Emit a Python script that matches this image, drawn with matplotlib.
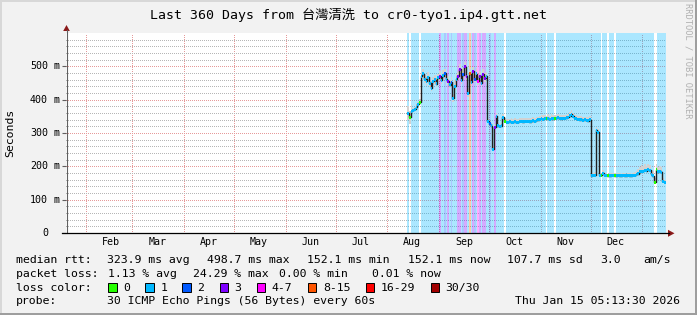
import matplotlib
matplotlib.use("Agg")
import matplotlib.pyplot as plt
import matplotlib.dates as mdates
import matplotlib.transforms as mtransforms
from matplotlib.colors import to_rgba
from matplotlib.patches import Rectangle, Polygon
from matplotlib.lines import Line2D
from matplotlib.ticker import FixedLocator, NullFormatter
from datetime import datetime, timedelta

plt.rcParams['font.family'] = ['DejaVu Sans Mono', 'Noto Sans CJK TC']

# ---------------- data ----------------
title_text = "Last 360 Days from 台灣清洗 to cr0-tyo1.ip4.gtt.net"
t_start = datetime(2025, 1, 20, 5, 13, 30)
t_end = datetime(2026, 1, 15, 5, 13, 30)
data_first_day = datetime(2025, 8, 13)

median_ms = [
    360, 348, 365, 368, 372, 378, 386, 393,
    470, 478, 462, 455, 468, 450, 435, 455, 460, 448,
    466, 470, 458, 472, 480, 462, 455, 445, 452, 405,
    440, 462, 470, 492, 458, 475, 498.7, 470, 420, 478,
    452, 485, 462, 478, 455, 470, 450, 476, 465, 470,
    335, 328, 322, 252, 318, 350, 322, 320, 322, 348, 335,
    333, 332, 334, 333, 332, 334, 333, 333,
    335, 336, 334, 335, 336, 335, 334, 336, 337, 336, 338, 340,
    341, 343, 342, 344, 343, 345, 342, 344, 343, 345, 344, 346, 344, 343, 345, 344, 346,
    348, 352, 357,
    350, 345, 343, 342, 340, 341, 339, 340, 338, 337, 340,
    172, 174, 174, 308, 303,
    174, 173, 180, 174, 173, 172, 172, 173, 174, 172, 172, 173, 172, 172, 173, 172, 172,
    173, 172, 172, 173, 174, 176,
    178,
    184, 186, 185, 188, 187, 190, 189,
    176, 172, 153, 190, 184, 185, 183, 155, 152.1,
]

loss_pings = [
    1, 0, 1, 1, 1, 1, 1, 0,
    1, 1, 1, 1, 1, 1, 1, 1, 1, 1, 1,
    3, 1, 1, 2, 1, 3, 1, 2, 1, 1,
    1, 3, 3, 1, 2, 3, 3, 1, 10, 1,
    3, 2, 1, 4, 3, 1, 3, 3, 1,
    1, 2, 1, 1, 3, 1, 1, 1, 1, 1, 0,
    1, 1, 1, 1, 1, 1, 1, 1, 1, 1,
    1, 1, 1, 1, 1, 1, 1, 1, 1, 1,
    1, 1, 1, 1, 0, 1, 1, 1, 1, 0,
    1, 1, 1, 1, 1, 1, 1, 1, 1, 1,
    1, 1, 1, 1, 1, 1, 1, 1, 1, 1,
    1, 1, 1, 1, 1, 1, 1, 0, 1, 1,
    1, 0, 1, 1, 1, 0, 1, 1, 1, 1,
    1, 1, 1, 1, 1, 1, 1, 1, 1, 1,
    1, 1, 1, 1, 1, 1, 1, 1, 1, 0,
    0, 1, 1, 1, 1, 1,
]

smoke_up_ms = [
    22, 18, 20, 8, 7, 9, 8, 10,
    12, 14, 16, 13, 15, 18, 12, 14, 13, 16,
    12, 15, 14, 17, 13, 12, 15, 14, 16, 13,
    18, 15, 14, 16, 12, 20, 15, 18, 16, 14,
    17, 13, 15, 18, 14, 16, 13, 15, 14, 12,
    8, 7, 9, 10, 8, 9, 7, 8, 9, 8, 10,
    10, 11, 9, 12, 10, 11, 10, 9, 11, 10,
    12, 11, 10, 9, 11, 10, 12, 10, 11, 9,
    10, 12, 11, 10, 9, 11, 10, 12, 11, 10,
    9, 11, 10, 12, 10, 11, 9, 10, 12, 11,
    10, 9, 11, 10, 12, 11, 10, 9, 11, 10, 12,
    6, 7, 8, 9, 8, 6, 7, 8, 6, 7,
    6, 8, 7, 6, 7, 8, 6, 7, 6, 8,
    7, 6, 7, 8, 6, 7, 8, 9,
    14, 15, 17, 16, 18, 15, 17, 16, 14, 15, 12, 16, 15, 17, 14, 10, 8,
]

smoke_down_ms = [
    20, 22, 18, 5, 6, 5, 6, 5,
    10, 12, 11, 13, 10, 12, 9, 11, 12, 10,
    13, 11, 12, 10, 11, 13, 12, 10, 11, 12,
    10, 13, 11, 12, 10, 14, 12, 11, 13, 10,
    12, 11, 10, 13, 11, 12, 10, 11, 12, 10,
    6, 5, 6, 7, 5, 6, 5, 6, 5, 6, 5,
    3, 2, 3, 4, 3, 2, 3, 3, 2, 3,
    4, 3, 2, 3, 3, 4, 3, 2, 3, 3,
    2, 3, 4, 3, 2, 3, 3, 4, 3, 2,
    3, 3, 2, 3, 4, 3, 2, 3, 3, 4,
    3, 2, 3, 3, 2, 3, 4, 3, 2, 3, 3,
    2, 2, 1, 2, 2, 1, 2, 2, 1, 2,
    2, 1, 2, 2, 1, 2, 2, 1, 2, 2,
    1, 2, 2, 1, 2, 2, 1, 2,
    4, 3, 4, 5, 4, 3, 4, 5, 4, 3, 4, 4, 3, 4, 5, 4, 3,
]

y_max = 600
y_tick_values = [0, 100, 200, 300, 400, 500]
y_tick_numbers = ["0", "100", "200", "300", "400", "500"]
y_tick_units = ["", "m", "m", "m", "m", "m"]
y_label = "Seconds"

loss_labels = ["0", "1", "2", "3", "4-7", "8-15", "16-29", "30/30"]
loss_lower = [0, 1, 2, 3, 4, 8, 16, 30]
loss_colors = ["#26ff00", "#00b8ff", "#0059ff", "#7e00ff",
               "#ff00ff", "#ff5500", "#ff0000", "#a10000"]

rtt_label = "median rtt:"
rtt_stats = ["323.9 ms avg", "498.7 ms max", "152.1 ms min",
             "152.1 ms now", "107.7 ms sd", "3.0", "am/s"]
loss_label = "packet loss:"
loss_stats = ["1.13 % avg", "24.29 % max", "0.00 % min", "0.01 % now"]
color_label = "loss color:"
probe_label = "probe:"
probe_text = "30 ICMP Echo Pings (56 Bytes) every 60s"
stamp_text = "Thu Jan 15 05:13:30 2026"
watermark = "RRDTOOL / TOBI OETIKER"

# ---------------- layout ----------------
W, H = 697, 315
BG = "#f2f2f2"
fig = plt.figure(figsize=(W / 100, H / 100), dpi=100, facecolor=BG)


def fx(x):
    return x / W


def fy(y):
    return 1 - y / H


AX_L, AX_R, AX_T, AX_B = 66, 666, 33, 233
ax = fig.add_axes([fx(AX_L), fy(AX_B), (AX_R - AX_L) / W, (AX_B - AX_T) / H])
ax.set_facecolor("white")
for s in ax.spines.values():
    s.set_visible(False)
ax.set_xlim(t_start, t_end)
ax.set_ylim(0, y_max)
ax.set_axisbelow(True)

# grid (dotted)
MINOR_C = "#b6b6b6"
MAJOR_C = "#e69a9a"
ax.xaxis.set_major_locator(mdates.MonthLocator(bymonthday=1))
ax.xaxis.set_major_formatter(NullFormatter())
ax.xaxis.set_minor_locator(mdates.MonthLocator(bymonthday=16))
ax.xaxis.set_minor_formatter(mdates.DateFormatter("%b"))
ax.tick_params(axis="x", which="both", length=0)
ax.tick_params(axis="x", which="minor", labelsize=7.2, pad=3.0, labelcolor="black")
ax.xaxis.grid(True, which="major", color=MAJOR_C, linestyle=":", linewidth=0.72,
              antialiased=False)

ax.yaxis.set_major_locator(FixedLocator(y_tick_values))
ax.yaxis.set_major_formatter(NullFormatter())
minor_y = [v for v in range(20, y_max, 20) if v % 100 != 0]
ax.yaxis.set_minor_locator(FixedLocator(minor_y))
ax.yaxis.set_minor_formatter(NullFormatter())
ax.tick_params(axis="y", which="major", length=3, width=0.8, color="#606060", direction="out")
ax.tick_params(axis="y", which="minor", length=0)
ax.yaxis.grid(True, which="major", color=MAJOR_C, linestyle=":", linewidth=0.72,
              antialiased=False)
ax.yaxis.grid(True, which="minor", color=MINOR_C, linestyle=":", linewidth=0.72,
              antialiased=False)

# data
n = len(median_ms)
days = [data_first_day + timedelta(days=i) for i in range(n)]
xnum = mdates.date2num(days)


def cat_of(p):
    c = 0
    for k, lb in enumerate(loss_lower):
        if p >= lb:
            c = k
    return c


cats = [cat_of(p) for p in loss_pings]

# loss background (loss 0 -> no shading)
bg_cols = [to_rgba(loss_colors[c], 0.33) if c > 0 else (1, 1, 1, 0) for c in cats]
ax.bar(xnum, [y_max] * n, bottom=0, width=1.0, align="edge", color=bg_cols,
       linewidth=0, antialiased=False, zorder=1)

# smoke
lo = [m - d for m, d in zip(median_ms, smoke_down_ms)]
hi = [m + u for m, u in zip(median_ms, smoke_up_ms)]
ax.bar(xnum, [h - l for h, l in zip(hi, lo)], bottom=lo, width=1.0, align="edge",
       color="#d2d2d2", linewidth=0, antialiased=False, zorder=2)

# median line (dark) + loss coloured band
ax.step(list(xnum) + [xnum[-1] + 1], list(median_ms) + [median_ms[-1]], where="post",
        color="#202020", linewidth=1.0, zorder=3)
half = 4.5
ax.bar(xnum, [2 * half] * n, bottom=[m - half for m in median_ms], width=1.0,
       align="edge", color=[loss_colors[c] for c in cats], linewidth=0,
       antialiased=False, zorder=4)

# y tick labels (number right aligned, unit column)
bt = mtransforms.blended_transform_factory(fig.transFigure, ax.transData)
for v, num, unit in zip(y_tick_values, y_tick_numbers, y_tick_units):
    ax.text(fx(48), v, num, transform=bt, ha="right", va="center", fontsize=7.2, color="black")
    if unit:
        ax.text(fx(54), v, unit, transform=bt, ha="left", va="center", fontsize=7.2, color="black")

# axes lines and arrows
fig.add_artist(Line2D([fx(66.5), fx(66.5)], [fy(AX_B), fy(30)], color="#606060", linewidth=0.8))
fig.add_artist(Line2D([fx(62), fx(669)], [fy(AX_B), fy(AX_B)], color="black", linewidth=0.9))
ARROW = "#8b1a1a"
fig.add_artist(Polygon([[fx(63.2), fy(31)], [fx(69.8), fy(31)], [fx(66.5), fy(25)]],
                       closed=True, color=ARROW, linewidth=0))
fig.add_artist(Polygon([[fx(668), fy(229.8)], [fx(668), fy(236.8)], [fx(674.5), fy(233.3)]],
                       closed=True, color=ARROW, linewidth=0))

# title / labels
fig.text(fx(348.5), fy(19.5), title_text, ha="center", va="baseline", fontsize=9.5, color="black")
fig.text(fx(10), fy(133), y_label, rotation=90, ha="center", va="center", fontsize=8.25, color="black")
fig.text(fx(688), fy(3), watermark, rotation=270, ha="center", va="top", fontsize=6.3, color="#b0b0b0")

# legend
LF = 8.25
CW = 6.9
rows_y = [263, 277, 291, 304.5]
fig.text(fx(16), fy(rows_y[0]), rtt_label, fontsize=LF, va="baseline")
for s, x in zip(rtt_stats, [107, 207, 307, 408, 507, 600, 643]):
    fig.text(fx(x), fy(rows_y[0]), s, fontsize=LF, va="baseline")
fig.text(fx(16), fy(rows_y[1]), loss_label, fontsize=LF, va="baseline")
for s, x in zip(loss_stats, [108, 193, 279, 372]):
    fig.text(fx(x), fy(rows_y[1]), s, fontsize=LF, va="baseline")
fig.text(fx(16), fy(rows_y[2]), color_label, fontsize=LF, va="baseline")
bx = 108
BOX = 8.5
for lab, col in zip(loss_labels, loss_colors):
    fig.add_artist(Rectangle((fx(bx), fy(287.5 + BOX / 2)), BOX / W, BOX / H,
                             facecolor=col, edgecolor="black", linewidth=0.7))
    tx = bx + 15
    fig.text(fx(tx), fy(rows_y[2]), lab, fontsize=LF, va="baseline")
    bx = tx + len(lab) * CW + 15.3
fig.text(fx(16), fy(rows_y[3]), probe_label, fontsize=LF, va="baseline")
fig.text(fx(107), fy(rows_y[3]), probe_text, fontsize=LF, va="baseline")
fig.text(fx(680), fy(rows_y[3]), stamp_text, fontsize=LF, va="baseline", ha="right")

# 3D frame
fig.add_artist(Rectangle((0, 0), fx(2), 1, facecolor="#d8d8d8", linewidth=0))
fig.add_artist(Rectangle((0, fy(2)), 1, 2 / H, facecolor="#d8d8d8", linewidth=0))
fig.add_artist(Rectangle((fx(695), 0), 2 / W, 1, facecolor="#9e9e9e", linewidth=0))
fig.add_artist(Rectangle((0, 0), 1, 2.5 / H, facecolor="#9e9e9e", linewidth=0))

fig.savefig("out.png", dpi=100, facecolor=BG)
